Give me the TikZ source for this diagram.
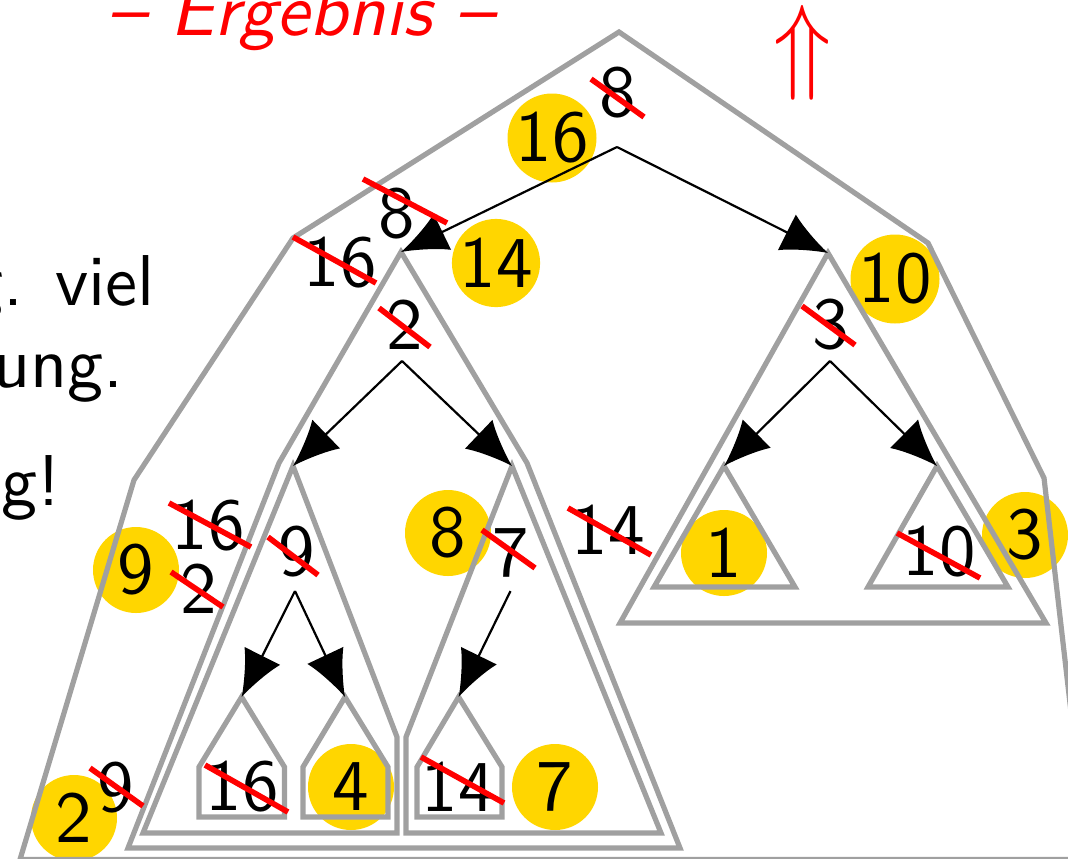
\documentclass[tikz,border=0pt]{standalone}
\usepackage{graphicx}
\usetikzlibrary{arrows.meta}
\definecolor{shapegray}{RGB}{160,160,160}
\definecolor{ballgold}{RGB}{255,214,0}
\newcommand{\Ssf}[2]{\scalebox{#1}{\fontsize{10}{12}\selectfont\sffamily #2}}
\newcommand{\Dg}[1]{\Ssf{3.65}{#1}}
\begin{document}
\begin{tikzpicture}[x=0.5pt,y=-0.5pt,
  tree/.style={draw=shapegray,line width=2.6pt},
  arr/.style={draw=black,line width=1.1pt,-{Latex[length=23pt,width=20pt]}},
  num/.style={inner sep=0pt,text=black},
  ball/.style={circle,fill=ballgold,minimum size=43pt,inner sep=0pt},
  strike/.style={draw=red,line width=2.8pt},
  body/.style={inner sep=0pt},
  titletext/.style={inner sep=0pt,text=red}]
\useasboundingbox (0,0) rectangle (1068,858);
\clip (0,0) rectangle (1068,858);

% yellow balls
\node[ball] (b16) at (552,138) {\Dg{16}};
\node[ball] (b14) at (496,263) {\Dg{14}};
\node[ball] (b10) at (895,279) {\Dg{10}};
\node[ball] (b9) at (136,570) {\Dg{9}};
\node[ball] (b8) at (448,533) {\Dg{8}};
\node[ball] (b1) at (724,553) {\Dg{1}};
\node[ball] (b3) at (1025,535) {\Dg{3}};
\node[ball] (b4) at (351,787) {\Dg{4}};
\node[ball] (b7) at (555,787) {\Dg{7}};
\node[ball] (b2) at (74,818) {\Dg{2}};

% apex and start coordinates
\coordinate (s8) at (617,147);
\coordinate (aL) at (401,252);
\coordinate (aR) at (828,253);
\coordinate (s2) at (402,361);
\coordinate (a9) at (293,466);
\coordinate (a7) at (512,466);
\coordinate (s3) at (830,361);
\coordinate (a1) at (724,466);
\coordinate (a10) at (937,466);
\coordinate (s9) at (295,591);
\coordinate (a16) at (241.6,697);
\coordinate (a4) at (345,697);
\coordinate (s7) at (510.5,591);
\coordinate (a14) at (458.6,697);

% gray subtree outlines
\draw[tree] (20,859.5) -- (134,480) -- (293,238) -- (619,32) -- (928,243) -- (1044,478) -- (1088,859.5) -- cycle;
\draw[tree] (aL) -- (279,463) -- (128,848) -- (680,848) -- (527,463) -- cycle;
\draw[tree] (a9) -- (143,833) -- (397,833) -- (397,737) -- cycle;
\draw[tree] (a7) -- (406,737) -- (406,833) -- (661,833) -- cycle;
\draw[tree] (a16) -- (199,767) -- (199,817) -- (284.5,817) -- (284.5,767) -- cycle;
\draw[tree] (a4) -- (303,767) -- (303,817) -- (388,817) -- (388,767) -- cycle;
\draw[tree] (a14) -- (417,767) -- (417,817) -- (502,817) -- (502,767) -- cycle;
\draw[tree] (aR) -- (620,623) -- (1046,623) -- cycle;
\draw[tree] (a1) -- (654,587) -- (795,587) -- cycle;
\draw[tree] (a10) -- (868,587) -- (1008,587) -- cycle;

% arrows
\draw[arr] (s8) -- (aL);
\draw[arr] (s8) -- (aR);
\draw[arr] (s2) -- (a9);
\draw[arr] (s2) -- (a7);
\draw[arr] (s3) -- (a1);
\draw[arr] (s3) -- (a10);
\draw[arr] (s9) -- (a16);
\draw[arr] (s9) -- (a4);
\draw[arr] (s7) -- (a14);

% numbers
\node[num] (n8) at (618,93) {\Dg{8}};
\node[num] (m8) at (397,214) {\Dg{8}};
\node[num] (m16) at (340,263) {\Dg{16}};
\node[num] (n2) at (405,325) {\Dg{2}};
\node[num] (n3) at (831,325) {\Dg{3}};
\node[num] (p16) at (208,526) {\Dg{16}};
\node[num] (p2) at (199,589) {\Dg{2}};
\node[num] (n9) at (297,552) {\Dg{9}};
\node[num] (n7) at (511,553) {\Dg{7}};
\node[num] (q14) at (608,530) {\Dg{14}};
\node[num] (l16) at (242,787) {\Dg{16}};
\node[num] (l14) at (458,787) {\Dg{14}};
\node[num] (r9) at (116,788) {\Dg{9}};
\node[num] (l10) at (939,552) {\Dg{10}};

% strikes
\draw[strike] ([shift={(-27,-14)}]n8.center) -- ([shift={(26,24)}]n8.center);
\draw[strike] ([shift={(-34,-35)}]m8.center) -- ([shift={(50,9)}]m8.center);
\draw[strike] ([shift={(-47,-26)}]m16.center) -- ([shift={(36,20)}]m16.center);
\draw[strike] ([shift={(-26,-17)}]n2.center) -- ([shift={(25,22)}]n2.center);
\draw[strike] ([shift={(-29,-19)}]n3.center) -- ([shift={(24,20)}]n3.center);
\draw[strike] ([shift={(-39,-23)}]p16.center) -- ([shift={(43,21)}]p16.center);
\draw[strike] ([shift={(-28,-17)}]p2.center) -- ([shift={(24,18)}]p2.center);
\draw[strike] ([shift={(-29,-15)}]n9.center) -- ([shift={(21,23)}]n9.center);
\draw[strike] ([shift={(-29,-23)}]n7.center) -- ([shift={(24,15)}]n7.center);
\draw[strike] ([shift={(-40,-22)}]q14.center) -- ([shift={(43,25)}]q14.center);
\draw[strike] ([shift={(-37,-22)}]l16.center) -- ([shift={(46,25)}]l16.center);
\draw[strike] ([shift={(-37,-30)}]l14.center) -- ([shift={(46,16)}]l14.center);
\draw[strike] ([shift={(-26,-20)}]r9.center) -- ([shift={(27,18)}]r9.center);
\draw[strike] ([shift={(-42,-19)}]l10.center) -- ([shift={(41,26)}]l10.center);

% texts
\node[titletext,anchor=base] (title) at (301,35) {\Ssf{3.7}{\itshape\textendash{} Ergebnis \textendash}};
\node[inner sep=0pt,text=red] (up) at (802,52.5) {\resizebox*{29pt}{47.5pt}{$\Uparrow$}};
\node[body,anchor=base east] (t1) at (155,305) {\Ssf{3.6}{g. viel}};
\node[body,anchor=base east] (t2) at (124,387) {\Ssf{3.6}{ung.}};
\node[body,anchor=base east] (t3) at (61,505) {\Ssf{3.6}{g!}};
\end{tikzpicture}
\end{document}
